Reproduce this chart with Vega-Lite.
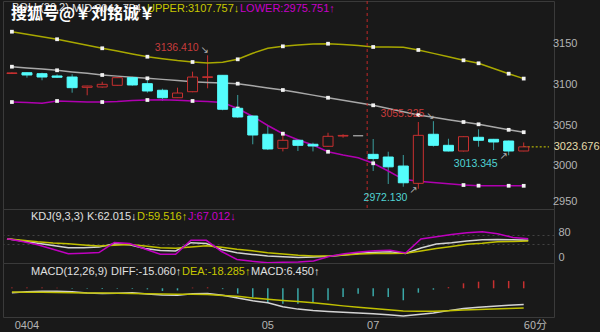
{
"$schema": "https://vega.github.io/schema/vega-lite/v6.json",
"background": "#191919",
"padding": {"left": 2, "top": 0, "right": 0, "bottom": 0},
"spacing": 0,
"bounds": "flush",
"config": {
  "view": {"stroke": "#3a3a3a", "strokeWidth": 1},
  "font": "Liberation Sans",
  "axis": {"labelFont": "Liberation Sans", "labelFontSize": 11, "labelColor": "#b4b4b4", "domain": false, "ticks": false, "gridColor": "#424242", "gridDash": [2, 3], "labelOverlap": false},
  "title": {"anchor": "start", "frame": "group", "fontWeight": "normal", "color": "#e0e0e0", "font": "Liberation Sans", "fontSize": 11},
  "legend": {"orient": "none", "direction": "horizontal", "symbolOpacity": 0, "symbolStrokeWidth": 0, "labelOffset": -11, "columnPadding": 0, "padding": 0,
             "labelFont": "Liberation Sans", "labelFontSize": 11, "labelLimit": 0,
             "titleOrient": "left", "titleFont": "Liberation Sans", "titleFontSize": 11, "titleFontWeight": "normal", "titleColor": "#e0e0e0", "titlePadding": 3, "titleBaseline": "middle", "titleLimit": 0}
},
"datasets": {
  "k": [
    {"i":0,"o":3114.0,"h":3115.5,"l":3113.5,"c":3114.8,"upper":3165.5,"mid":3122.4,"lower":3078.9,"K":67.1,"D":67.1,"J":67.1,"DIFF":-4.1,"DEA":-3.4,"MACD":0.8},
    {"i":1,"o":3115.0,"h":3115.5,"l":3108.9,"c":3112.2,"upper":3162.4,"mid":3120.9,"lower":3078.3,"K":59.9,"D":62.2,"J":58.0,"DIFF":-3.2,"DEA":-3.6,"MACD":0.8},
    {"i":2,"o":3113.8,"h":3115.0,"l":3105.7,"c":3109.7,"upper":3159.4,"mid":3119.5,"lower":3077.3,"K":52.1,"D":57.0,"J":47.2,"DIFF":-2.7,"DEA":-3.7,"MACD":0.6},
    {"i":3,"o":3111.0,"h":3113.0,"l":3108.5,"c":3109.4,"upper":3156.2,"mid":3118.0,"lower":3080.2,"K":45.3,"D":53.1,"J":32.9,"DIFF":-2.7,"DEA":-3.9,"MACD":0.5},
    {"i":4,"o":3109.7,"h":3113.1,"l":3090.4,"c":3096.6,"upper":3152.5,"mid":3116.0,"lower":3079.6,"K":37.8,"D":50.5,"J":18.2,"DIFF":-3.2,"DEA":-4.1,"MACD":-0.5},
    {"i":5,"o":3097.0,"h":3099.0,"l":3087.2,"c":3098.6,"upper":3148.8,"mid":3114.2,"lower":3078.9,"K":37.8,"D":46.9,"J":19.9,"DIFF":-4.4,"DEA":-4.3,"MACD":-0.5},
    {"i":6,"o":3097.4,"h":3103.9,"l":3096.5,"c":3100.7,"upper":3145.1,"mid":3112.2,"lower":3078.9,"K":39.7,"D":43.3,"J":22.1,"DIFF":-4.8,"DEA":-4.4,"MACD":-0.6},
    {"i":7,"o":3099.5,"h":3109.5,"l":3099.0,"c":3108.9,"upper":3141.7,"mid":3110.8,"lower":3079.6,"K":50.8,"D":45.6,"J":54.7,"DIFF":-4.5,"DEA":-4.6,"MACD":-0.5},
    {"i":8,"o":3108.9,"h":3110.0,"l":3099.0,"c":3099.9,"upper":3138.1,"mid":3109.5,"lower":3080.8,"K":47.6,"D":47.9,"J":51.5,"DIFF":-4.2,"DEA":-4.9,"MACD":-0.6},
    {"i":9,"o":3101.5,"h":3106.9,"l":3090.4,"c":3092.5,"upper":3134.7,"mid":3108.1,"lower":3081.4,"K":34.9,"D":43.3,"J":33.6,"DIFF":-5.2,"DEA":-5.1,"MACD":-1.0},
    {"i":10,"o":3093.4,"h":3095.3,"l":3080.2,"c":3084.2,"upper":3132.3,"mid":3106.8,"lower":3081.8,"K":28.7,"D":37.5,"J":16.3,"DIFF":-6.3,"DEA":-5.3,"MACD":-2.5},
    {"i":11,"o":3084.2,"h":3096.6,"l":3083.8,"c":3090.0,"upper":3130.0,"mid":3105.3,"lower":3081.0,"K":27.0,"D":35.8,"J":16.3,"DIFF":-6.4,"DEA":-5.5,"MACD":-2.0},
    {"i":12,"o":3091.6,"h":3116.3,"l":3091.0,"c":3109.7,"upper":3128.2,"mid":3103.9,"lower":3080.2,"K":54.1,"D":40.1,"J":61.9,"DIFF":-5.1,"DEA":-5.6,"MACD":0.6},
    {"i":13,"o":3109.2,"h":3136.41,"l":3095.8,"c":3110.0,"upper":3127.0,"mid":3103.1,"lower":3079.6,"K":51.5,"D":44.0,"J":61.9,"DIFF":-4.8,"DEA":-5.8,"MACD":0.8},
    {"i":14,"o":3111.8,"h":3112.0,"l":3068.7,"c":3070.0,"upper":3128.0,"mid":3102.3,"lower":3078.3,"K":31.9,"D":39.1,"J":25.4,"DIFF":-6.4,"DEA":-6.7,"MACD":-0.8},
    {"i":15,"o":3071.2,"h":3087.6,"l":3059.5,"c":3060.5,"upper":3131.5,"mid":3101.5,"lower":3070.9,"K":21.2,"D":32.9,"J":-0.7,"DIFF":-9.0,"DEA":-7.3,"MACD":-5.0},
    {"i":16,"o":3061.7,"h":3062.0,"l":3026.9,"c":3038.3,"upper":3139.0,"mid":3098.9,"lower":3061.1,"K":16.0,"D":28.0,"J":-6.5,"DIFF":-11.6,"DEA":-9.0,"MACD":-8.7},
    {"i":17,"o":3039.2,"h":3049.4,"l":3019.8,"c":3021.1,"upper":3145.0,"mid":3096.3,"lower":3050.0,"K":10.7,"D":21.5,"J":-11.1,"DIFF":-13.5,"DEA":-10.2,"MACD":-13.3},
    {"i":18,"o":3021.9,"h":3042.4,"l":3018.1,"c":3031.8,"upper":3147.5,"mid":3093.7,"lower":3039.9,"K":8.5,"D":17.3,"J":-9.8,"DIFF":-17.1,"DEA":-11.3,"MACD":-14.3},
    {"i":19,"o":3031.8,"h":3033.0,"l":3018.6,"c":3025.6,"upper":3149.1,"mid":3090.5,"lower":3032.5,"K":5.9,"D":13.4,"J":-8.8,"DIFF":-19.3,"DEA":-12.3,"MACD":-14.3},
    {"i":20,"o":3026.9,"h":3028.8,"l":3018.1,"c":3024.8,"upper":3150.4,"mid":3087.4,"lower":3026.0,"K":7.5,"D":10.7,"J":-5.5,"DIFF":-20.6,"DEA":-13.5,"MACD":-13.3},
    {"i":21,"o":3024.4,"h":3041.1,"l":3024.0,"c":3036.7,"upper":3150.7,"mid":3084.2,"lower":3017.7,"K":9.8,"D":10.7,"J":9.1,"DIFF":-21.4,"DEA":-14.9,"MACD":-11.1},
    {"i":22,"o":3037.0,"h":3039.2,"l":3035.0,"c":3037.8,"upper":3149.8,"mid":3081.2,"lower":3013.7,"K":14.3,"D":14.0,"J":18.2,"DIFF":-22.2,"DEA":-16.3,"MACD":-8.1},
    {"i":23,"o":3037.4,"h":3037.4,"l":3037.4,"c":3037.4,"upper":3148.5,"mid":3078.0,"lower":3010.3,"K":19.5,"D":17.3,"J":23.8,"DIFF":-22.9,"DEA":-17.5,"MACD":-5.0},
    {"i":24,"o":3014.5,"h":3033.4,"l":2994.0,"c":3009.3,"upper":3146.7,"mid":3074.9,"lower":3003.5,"K":23.1,"D":18.6,"J":27.7,"DIFF":-23.5,"DEA":-18.7,"MACD":-7.4},
    {"i":25,"o":3011.2,"h":3017.7,"l":2978.0,"c":2999.1,"upper":3146.7,"mid":3070.9,"lower":2994.0,"K":24.8,"D":19.2,"J":29.3,"DIFF":-24.5,"DEA":-19.9,"MACD":-8.1},
    {"i":26,"o":3000.1,"h":3013.7,"l":2974.6,"c":2979.5,"upper":3146.4,"mid":3066.9,"lower":2983.7,"K":18.9,"D":19.5,"J":20.5,"DIFF":-25.6,"DEA":-21.0,"MACD":-11.1},
    {"i":27,"o":2978.8,"h":3054.3,"l":2972.13,"c":3037.9,"upper":3143.0,"mid":3062.9,"lower":2981.3,"K":36.8,"D":27.0,"J":66.1,"DIFF":-24.3,"DEA":-21.3,"MACD":-4.1},
    {"i":28,"o":3039.2,"h":3055.325,"l":3024.0,"c":3025.6,"upper":3138.8,"mid":3060.1,"lower":2979.8,"K":49.8,"D":35.2,"J":73.3,"DIFF":-22.9,"DEA":-21.3,"MACD":-1.3},
    {"i":29,"o":3025.6,"h":3033.7,"l":3018.0,"c":3018.6,"upper":3134.6,"mid":3057.1,"lower":2978.2,"K":54.1,"D":41.7,"J":80.8,"DIFF":-20.7,"DEA":-20.8,"MACD":1.0},
    {"i":30,"o":3018.6,"h":3036.5,"l":3018.0,"c":3036.2,"upper":3130.3,"mid":3054.3,"lower":2976.7,"K":59.6,"D":48.9,"J":86.3,"DIFF":-18.8,"DEA":-20.2,"MACD":4.6},
    {"i":31,"o":3035.5,"h":3045.3,"l":3023.9,"c":3031.8,"upper":3126.6,"mid":3051.5,"lower":2975.9,"K":63.5,"D":52.1,"J":89.6,"DIFF":-17.6,"DEA":-19.6,"MACD":6.1},
    {"i":32,"o":3033.0,"h":3033.5,"l":3019.8,"c":3029.7,"upper":3120.2,"mid":3048.2,"lower":2975.8,"K":64.5,"D":57.0,"J":83.1,"DIFF":-16.6,"DEA":-19.1,"MACD":7.4},
    {"i":33,"o":3030.9,"h":3031.5,"l":3013.345,"c":3018.6,"upper":3113.8,"mid":3044.7,"lower":2975.8,"K":63.8,"D":58.3,"J":71.0,"DIFF":-15.8,"DEA":-18.7,"MACD":6.8},
    {"i":34,"o":3018.6,"h":3029.1,"l":3018.3,"c":3023.676,"upper":3107.757,"mid":3041.754,"lower":2975.751,"K":62.015,"D":59.516,"J":67.012,"DIFF":-15.06,"DEA":-18.285,"MACD":6.45}
  ],
  "yticks": [{"p": 2950}, {"p": 3000}, {"p": 3050}, {"p": 3100}, {"p": 3150}],
  "days": [{"i": 1, "t": "0404"}, {"i": 17, "t": "05"}, {"i": 24, "t": "07"}]
},
"resolve": {"scale": {"x": "independent", "y": "independent", "color": "independent"}, "legend": {"color": "independent"}},
"vconcat": [
  {
    "width": 551, "height": 208,
    "title": {"text": "搜狐号@￥刘铭诚￥", "font": "Noto Sans CJK SC", "fontSize": 16, "fontWeight": "bold", "color": "#ffffff", "dx": 8, "offset": -21},
    "data": {"name": "k"},
    "layer": [
      {
        "mark": {"type": "rule", "strokeWidth": 1},
        "encoding": {
          "x": {"field": "i", "type": "quantitative", "scale": {"domain": [-0.26, 35.68], "nice": false, "zero": false}, "axis": null},
          "y": {"field": "l", "type": "quantitative", "scale": {"domain": [2947.2, 3203.3], "nice": false, "zero": false},
                "axis": {"orient": "right", "title": null, "values": [2950, 3000, 3050, 3100, 3150], "labels": false}},
          "y2": {"field": "h"},
          "color": {"condition": [{"test": "datum.c > datum.o", "value": "#c83030"}, {"test": "datum.c == datum.o", "value": "#a0a0a0"}], "value": "#3a9e9e"}
        }
      },
      {
        "data": {"name": "yticks"},
        "transform": [{"filter": "datum.p > 2950"}],
        "mark": {"type": "text", "align": "left", "baseline": "middle", "dx": 4, "fontSize": 11, "font": "Liberation Sans", "color": "#b4b4b4"},
        "encoding": {
          "x": {"datum": 35.68, "type": "quantitative", "axis": null},
          "y": {"field": "p", "type": "quantitative", "axis": null},
          "text": {"field": "p", "type": "quantitative", "format": "d"}
        }
      },
      {
        "data": {"name": "yticks"},
        "transform": [{"filter": "datum.p == 2950"}],
        "mark": {"type": "text", "align": "left", "baseline": "middle", "dx": 4, "dy": -5, "fontSize": 11, "font": "Liberation Sans", "color": "#b4b4b4"},
        "encoding": {
          "x": {"datum": 35.68, "type": "quantitative", "axis": null},
          "y": {"field": "p", "type": "quantitative", "axis": null},
          "text": {"field": "p", "type": "quantitative", "format": "d"}
        }
      },
      {
        "transform": [{"fold": ["upper", "mid", "lower"], "as": ["band", "bv"]}],
        "mark": {"type": "line", "strokeWidth": 1.5},
        "encoding": {
          "x": {"field": "i", "type": "quantitative", "axis": null},
          "y": {"field": "bv", "type": "quantitative", "axis": null},
          "color": {"field": "band", "type": "nominal", "scale": {"domain": ["mid", "upper", "lower"], "range": ["#a8a8a8", "#a8a800", "#b000b0"]},
                    "legend": {"title": "BOLL(20,2)", "legendX": 9, "legendY": 2,
                               "labelExpr": "datum.label == 'mid' ? 'MID:3041.754↓' : datum.label == 'upper' ? 'UPPER:3107.757↓' : 'LOWER:2975.751↑'",
                               "labelColor": {"expr": "datum.value == 'upper' ? '#c8c800' : datum.value == 'lower' ? '#c800c8' : '#e0e0e0'"}}}
        }
      },
      {
        "transform": [{"fold": ["upper", "mid", "lower"], "as": ["band", "bv"]}, {"filter": "datum.i % 3 == 0 || datum.i == 31 || datum.i == 34"}],
        "mark": {"type": "point", "shape": "square", "filled": true, "size": 14, "opacity": 1},
        "encoding": {
          "x": {"field": "i", "type": "quantitative", "axis": null},
          "y": {"field": "bv", "type": "quantitative", "axis": null},
          "color": {"value": "#f2f2f2"}
        }
      },
      {
        "data": {"values": [{"i": 23.6}]},
        "mark": {"type": "rule", "color": "#c02828", "strokeDash": [3, 3], "strokeWidth": 1},
        "encoding": {"x": {"field": "i", "type": "quantitative", "axis": null}}
      },
      {
        "transform": [{"filter": "datum.i == 34"}],
        "mark": {"type": "rule", "color": "#d4d400", "strokeDash": [2, 2], "strokeWidth": 1},
        "encoding": {
          "x": {"field": "i", "type": "quantitative", "axis": null},
          "x2": {"datum": 35.68},
          "y": {"field": "c", "type": "quantitative", "axis": null}
        }
      },
      {
        "transform": [{"filter": "datum.i == 34"}],
        "mark": {"type": "text", "align": "left", "baseline": "middle", "dx": 30, "fontSize": 11, "font": "Liberation Sans", "color": "#e6dcaa"},
        "encoding": {
          "x": {"field": "i", "type": "quantitative", "axis": null},
          "y": {"field": "c", "type": "quantitative", "axis": null},
          "text": {"field": "c", "type": "quantitative", "format": ".3f"}
        }
      },
      {
        "mark": {"type": "bar", "width": 10, "strokeWidth": 1},
        "encoding": {
          "x": {"field": "i", "type": "quantitative", "axis": null},
          "y": {"field": "o", "type": "quantitative", "axis": null},
          "y2": {"field": "c"},
          "fill": {"condition": [{"test": "datum.c > datum.o", "value": "#191919"}, {"test": "datum.c == datum.o", "value": "#a0a0a0"}], "value": "#54fcfc"},
          "stroke": {"condition": [{"test": "datum.c > datum.o", "value": "#c83030"}, {"test": "datum.c == datum.o", "value": "#a0a0a0"}], "value": "#54fcfc"}
        }
      },
      {
        "transform": [{"filter": "datum.i == 13 || datum.i == 28"}],
        "mark": {"type": "text", "align": "right", "baseline": "middle", "dx": -9, "dy": -7, "fontSize": 10.5, "font": "Liberation Sans", "color": "#c83c3c"},
        "encoding": {
          "x": {"field": "i", "type": "quantitative", "axis": null},
          "y": {"field": "h", "type": "quantitative", "axis": null},
          "text": {"field": "h", "type": "quantitative", "format": ".3f"}
        }
      },
      {
        "transform": [{"filter": "datum.i == 13 || datum.i == 28"}],
        "mark": {"type": "text", "align": "center", "baseline": "middle", "dx": -3, "dy": -5, "fontSize": 10, "font": "DejaVu Sans", "color": "#b4b4b4", "text": "↘"},
        "encoding": {
          "x": {"field": "i", "type": "quantitative", "axis": null},
          "y": {"field": "h", "type": "quantitative", "axis": null}
        }
      },
      {
        "transform": [{"filter": "datum.i == 27 || datum.i == 33"}],
        "mark": {"type": "text", "align": "right", "baseline": "middle", "dx": -11, "dy": 9, "fontSize": 10.5, "font": "Liberation Sans", "color": "#50d4d4"},
        "encoding": {
          "x": {"field": "i", "type": "quantitative", "axis": null},
          "y": {"field": "l", "type": "quantitative", "axis": null},
          "text": {"field": "l", "type": "quantitative", "format": ".3f"}
        }
      },
      {
        "transform": [{"filter": "datum.i == 27 || datum.i == 33"}],
        "mark": {"type": "text", "align": "center", "baseline": "middle", "dx": -5, "dy": 1, "fontSize": 10, "font": "DejaVu Sans", "color": "#b4b4b4", "text": "↗"},
        "encoding": {
          "x": {"field": "i", "type": "quantitative", "axis": null},
          "y": {"field": "l", "type": "quantitative", "axis": null}
        }
      }
    ]
  },
  {
    "width": 551, "height": 54,
    "data": {"name": "k"},
    "transform": [{"fold": ["K", "D", "J"], "as": ["s", "v"]}],
    "mark": {"type": "line", "strokeWidth": 1.5},
    "encoding": {
      "x": {"field": "i", "type": "quantitative", "scale": {"domain": [-0.26, 35.68], "nice": false, "zero": false}, "axis": null},
      "y": {"field": "v", "type": "quantitative", "scale": {"domain": [-12.05, 163.8], "nice": false, "zero": false},
            "axis": {"orient": "right", "title": null, "values": [0, 50, 80], "labelExpr": "datum.value == 50 ? '' : datum.label", "labelPadding": 4, "labelOffset": -2,
                     "gridColor": {"condition": {"test": "datum.value == 0", "value": "transparent"}, "value": "#424242"}}},
      "color": {"field": "s", "type": "nominal", "scale": {"domain": ["K", "D", "J"], "range": ["#d4d4d4", "#c0c000", "#c000c0"]},
                "legend": {"title": "KDJ(9,3,3)", "legendX": 28, "legendY": 2.5,
                           "labelExpr": "datum.label == 'K' ? 'K:62.015↓' : datum.label == 'D' ? 'D:59.516↑' : 'J:67.012↓'",
                           "labelColor": {"expr": "datum.value == 'D' ? '#c8c800' : datum.value == 'J' ? '#c800c8' : '#e0e0e0'"}}}
    }
  },
  {
    "width": 551, "height": 54,
    "data": {"name": "k"},
    "layer": [
      {
        "mark": {"type": "bar", "width": 1.5},
        "encoding": {
          "x": {"field": "i", "type": "quantitative", "scale": {"domain": [-0.26, 35.68], "nice": false, "zero": false}, "axis": null},
          "y": {"field": "MACD", "type": "quantitative", "scale": {"domain": [-26.6, 23.4], "nice": false, "zero": false},
                "axis": {"orient": "right", "title": null, "values": [0], "labelPadding": 4}},
          "color": {"condition": {"test": "datum.MACD > 0", "value": "#c83030"}, "value": "#3aa8a8"}
        }
      },
      {
        "transform": [{"fold": ["DIFF", "DEA"], "as": ["m", "mv"]}],
        "mark": {"type": "line", "strokeWidth": 1.5},
        "encoding": {
          "x": {"field": "i", "type": "quantitative", "axis": null},
          "y": {"field": "mv", "type": "quantitative", "axis": null},
          "color": {"field": "m", "type": "nominal", "scale": {"domain": ["DIFF", "DEA", "MACD"], "range": ["#d4d4d4", "#c0c000", "#d4d4d4"]},
                    "legend": {"title": "MACD(12,26,9)", "legendX": 28, "legendY": 3.5,
                               "labelExpr": "datum.label == 'DIFF' ? 'DIFF:-15.060↑' : datum.label == 'DEA' ? 'DEA:-18.285↑' : 'MACD:6.450↑'",
                               "labelColor": {"expr": "datum.value == 'DEA' ? '#c8c800' : '#e0e0e0'"}}}
        }
      },
      {
        "data": {"name": "days"},
        "mark": {"type": "text", "align": "center", "baseline": "top", "dy": 3, "fontSize": 11, "font": "Liberation Sans", "color": "#b4b4b4"},
        "encoding": {
          "x": {"field": "i", "type": "quantitative", "axis": null},
          "y": {"datum": -26.6, "type": "quantitative", "axis": null},
          "text": {"field": "t", "type": "nominal"}
        }
      },
      {
        "data": {"values": [{"t": "60分"}]},
        "mark": {"type": "text", "align": "right", "baseline": "top", "dy": 3, "dx": -2, "fontSize": 11, "font": "Noto Sans CJK SC", "color": "#b4b4b4"},
        "encoding": {
          "x": {"datum": 35.68, "type": "quantitative", "axis": null},
          "y": {"datum": -26.6, "type": "quantitative", "axis": null},
          "text": {"field": "t", "type": "nominal"}
        }
      }
    ]
  }
]
}
